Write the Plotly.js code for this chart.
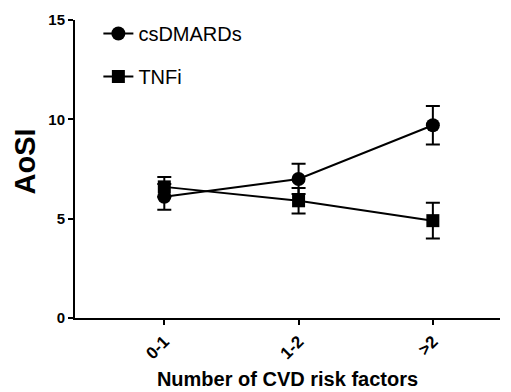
<!DOCTYPE html>
<html>
<head>
<meta charset="utf-8">
<script src="https://cdn.plot.ly/plotly-3.0.1.min.js"></script>
<style>html,body{margin:0;padding:0;background:#fff;}#chart{width:511px;height:392px;}</style>
</head>
<body>
<div id="chart"></div>
<script>
var categories = ["0-1", "1-2", ">2"];
var csdmardsMean = [6.1, 7.0, 9.7];
var csdmardsErr = [0.65, 0.76, 0.97];
var tnfiMean = [6.6, 5.9, 4.9];
var tnfiErr = [0.5, 0.64, 0.9];
var yTicks = [0, 5, 10, 15];

var xIdx = categories.map(function(_, i){ return i; });

var traces = [
  {
    name: "csDMARDs", x: xIdx, y: csdmardsMean, type: "scatter", mode: "lines+markers",
    legendgroup: "a",
    line: {color: "#000", width: 2},
    marker: {symbol: "circle", size: 14, color: "#000"},
    error_y: {type: "data", array: csdmardsErr, visible: true, color: "#000", thickness: 2, width: 7}
  },
  {
    name: "TNFi", x: xIdx, y: tnfiMean, type: "scatter", mode: "lines+markers",
    legendgroup: "b",
    line: {color: "#000", width: 2},
    marker: {symbol: "square", size: 13, color: "#000"},
    error_y: {type: "data", array: tnfiErr, visible: true, color: "#000", thickness: 2, width: 7}
  }
];

var layout = {
  width: 511, height: 392,
  margin: {l: 75, r: 11, t: 20, b: 74},
  paper_bgcolor: "#fff", plot_bgcolor: "#fff",
  font: {family: "Liberation Sans, Arial, sans-serif", color: "#000"},
  showlegend: true,
  legend: {
    x: 0.055, y: 1.02, xanchor: "left", yanchor: "top",
    font: {size: 20, color: "#000"},
    bgcolor: "rgba(0,0,0,0)",
    traceorder: "grouped",
    tracegroupgap: 14,
    itemwidth: 30
  },
  xaxis: {
    range: [-0.665, 2.5],
    tickvals: xIdx,
    ticktext: categories.map(function(c){ return "<b>" + c.replace(">", "&gt;") + "</b>"; }),
    tickangle: -45,
    showline: true, linecolor: "#000", linewidth: 2,
    ticks: "outside", ticklen: 5, tickwidth: 2, tickcolor: "#000",
    showgrid: false, zeroline: false,
    tickfont: {size: 17, color: "#000"},
    title: {text: "<b>Number of CVD risk factors</b>", font: {size: 20, color: "#000"}, standoff: 10}
  },
  yaxis: {
    range: [0, 15],
    tickvals: yTicks,
    ticktext: yTicks.map(function(v){ return "<b>" + v + "</b>"; }),
    showline: true, linecolor: "#000", linewidth: 2,
    ticks: "outside", ticklen: 5, tickwidth: 2, tickcolor: "#000",
    showgrid: false, zeroline: false,
    tickfont: {size: 15, color: "#000"}
  },
  annotations: [{
    text: "<b>AoSI</b>", textangle: -90, showarrow: false,
    xref: "paper", yref: "paper", x: -0.118, y: 0.525,
    xanchor: "center", yanchor: "middle",
    font: {size: 29, color: "#000"}
  }]
};

Plotly.newPlot("chart", traces, layout, {displayModeBar: false, staticPlot: true});
</script>
</body>
</html>
